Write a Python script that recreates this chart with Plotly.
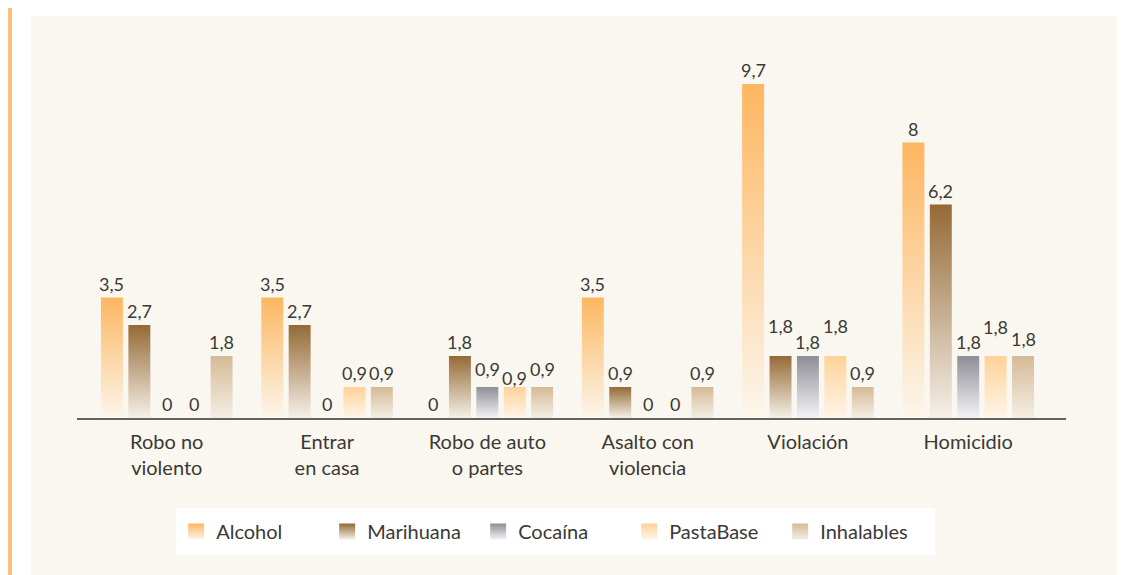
import plotly.graph_objects as go


CATEGORIES = [
    'Robo no<br>violento',
    'Entrar<br>en casa',
    'Robo de auto<br>o partes',
    'Asalto con<br>violencia',
    'Violación',
    'Homicidio',
]

SERIES = ['Alcohol', 'Marihuana', 'Cocaína', 'PastaBase', 'Inhalables']

ALCOHOL = [3.5, 3.5, 0, 3.5, 9.7, 8]
MARIHUANA = [2.7, 2.7, 1.8, 0.9, 1.8, 6.2]
COCAINA = [0, 0, 0.9, 0, 1.8, 1.8]
PASTABASE = [0, 0.9, 0.9, 0, 1.8, 1.8]
INHALABLES = [1.8, 0.9, 0.9, 0.9, 0.9, 1.8]

VALUES = [ALCOHOL, MARIHUANA, COCAINA, PASTABASE, INHALABLES]

TOP_COLORS = ['#FDB660', '#946A35', '#8E8F96', '#FED298', '#D5BA96']
BOTTOM_COLORS = ['#FCF6EC', '#F5F0E8', '#F3F3F7', '#FFF5E8', '#F4EEE5']

BAR_STEP = 0.171
BAR_WIDTH = 0.137

# labels nudged up/down (series, group) -> px, to keep neighbours readable
LABEL_NUDGE = {
    (2, 2): 4, (3, 2): -5, (4, 2): 4,
    (1, 4): 16, (3, 4): 16,
    (3, 5): 15, (4, 5): 3,
}

FONT = 'Lato, "Open Sans", sans-serif'
TEXT_COLOR = '#3b3936'


def fmt(v):
    return f'{v:g}'.replace('.', ',')


def bar_traces(s_idx):
    traces = []
    half = BAR_WIDTH / 2
    for g_idx, v in enumerate(VALUES[s_idx]):
        if v <= 0:
            continue
        cx = g_idx + (s_idx - 2) * BAR_STEP
        traces.append(go.Scatter(
            x=[cx - half, cx + half, cx + half, cx - half, cx - half],
            y=[0, 0, v, v, 0],
            mode='lines',
            fill='toself',
            line=dict(width=0, color=TOP_COLORS[s_idx]),
            fillgradient=dict(
                type='vertical',
                colorscale=[[0, BOTTOM_COLORS[s_idx]], [1, TOP_COLORS[s_idx]]],
                start=0,
                stop=v,
            ),
            name=SERIES[s_idx],
            legendgroup=SERIES[s_idx],
            showlegend=False,
            hoveron='fills',
            hoverinfo='name',
        ))
    return traces


def legend_trace(s_idx):
    return go.Scatter(
        x=[None],
        y=[None],
        mode='markers',
        marker=dict(
            symbol='square',
            size=16,
            color=TOP_COLORS[s_idx],
            gradient=dict(type='vertical', color=BOTTOM_COLORS[s_idx]),
            line=dict(width=0),
        ),
        name=SERIES[s_idx],
        legendgroup=SERIES[s_idx],
    )


def value_labels():
    notes = []
    for s_idx, vals in enumerate(VALUES):
        for g_idx, v in enumerate(vals):
            notes.append(dict(
                x=g_idx + (s_idx - 2) * BAR_STEP,
                y=v,
                text=fmt(v),
                showarrow=False,
                yanchor='bottom',
                yshift=1 + LABEL_NUDGE.get((s_idx, g_idx), 0),
                font=dict(family=FONT, size=18, color=TEXT_COLOR),
            ))
    return notes


traces = []
for i in range(len(SERIES)):
    traces.extend(bar_traces(i))
for i in range(len(SERIES)):
    traces.append(legend_trace(i))

fig = go.Figure(data=traces)

fig.update_layout(
    width=1121,
    height=567,
    margin=dict(l=69, r=63, t=52, b=157, autoexpand=False),
    paper_bgcolor='white',
    plot_bgcolor='rgba(0,0,0,0)',
    font=dict(family=FONT, size=18, color=TEXT_COLOR),
    xaxis=dict(
        range=[-0.56, 5.61],
        tickvals=list(range(len(CATEGORIES))),
        ticktext=CATEGORIES,
        showgrid=False,
        zeroline=False,
        showline=True,
        linecolor='#68615B',
        linewidth=2,
        ticks='',
        ticklabelstandoff=5,
        tickfont=dict(family=FONT, size=20, color=TEXT_COLOR),
        fixedrange=True,
    ),
    yaxis=dict(
        range=[0, 10.4],
        visible=False,
        fixedrange=True,
    ),
    legend=dict(
        orientation='h',
        x=0.484,
        xanchor='center',
        y=-0.2514,
        yanchor='top',
        bgcolor='white',
        bordercolor='white',
        borderwidth=4,
        entrywidth=106,
        font=dict(family=FONT, size=20, color=TEXT_COLOR),
        itemsizing='trace',
    ),
    annotations=value_labels(),
    shapes=[
        # cream panel behind the chart
        dict(type='rect', xref='paper', yref='paper', layer='below',
             x0=-0.0465, x1=1.0516, y0=-0.45, y1=1.1229,
             fillcolor='#FAF7F0', line=dict(width=0)),
        # orange rule on the left edge
        dict(type='line', xref='paper', yref='paper', layer='below',
             x0=-0.0677, x1=-0.0677, y0=-0.45, y1=1.17,
             line=dict(color='#FDBE78', width=4)),
    ],
)

fig.write_html('out.html')
